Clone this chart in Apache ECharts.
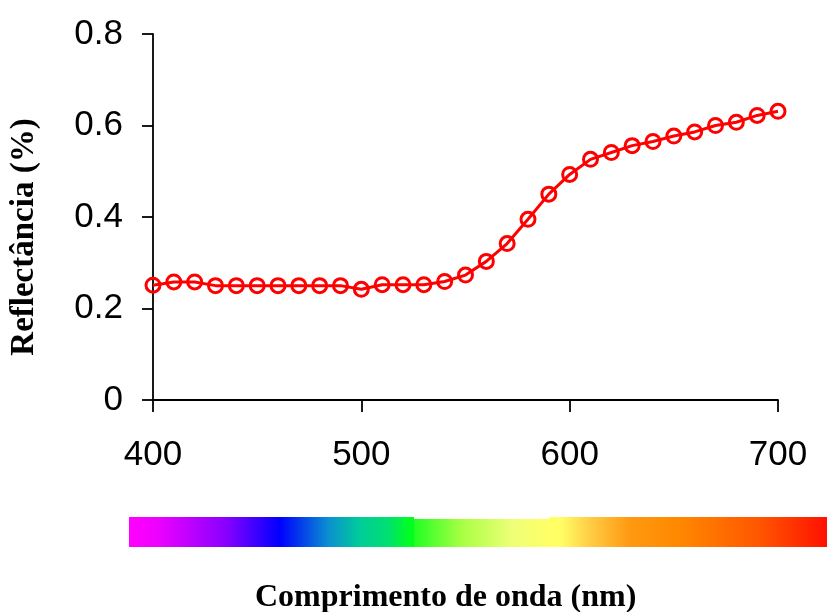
<!DOCTYPE html>
<html>
<head>
<meta charset="utf-8">
<script src="https://cdn.jsdelivr.net/npm/echarts@6/dist/echarts.min.js"></script>
<style>
html,body{margin:0;padding:0;background:#fff;}
#chart{width:827px;height:612px;}
</style>
</head>
<body>
<div id="chart"></div>
<script>
// Data
const wavelengths = [400,410,420,430,440,450,460,470,480,490,500,510,520,530,540,550,560,570,580,590,600,610,620,630,640,650,660,670,680,690,700];
const reflectance = [0.251,0.258,0.258,0.250,0.250,0.250,0.250,0.250,0.250,0.250,0.242,0.252,0.252,0.252,0.259,0.273,0.303,0.342,0.395,0.450,0.493,0.526,0.541,0.556,0.565,0.577,0.586,0.600,0.607,0.622,0.631];
const xTicks = [400,500,600,700];
const yTicks = [0,0.2,0.4,0.6,0.8];
const xTitle = 'Comprimento de onda (nm)';
const yTitle = 'Reflectância (%)';

const chart = echarts.init(document.getElementById('chart'), null, {renderer:'canvas'});
const seriesData = wavelengths.map((w,i)=>[w, reflectance[i]]);

const barTop = 517, barH = 30;
function grad(stops){
  return new echarts.graphic.LinearGradient(0,0,1,0, stops.map(s=>({offset:s[0], color:s[1]})));
}

chart.setOption({
  backgroundColor:'#ffffff',
  animation:false,
  grid:{left:150, right:49, top:34, bottom:212, containLabel:false},
  xAxis:{
    type:'value', min:xTicks[0], max:xTicks[xTicks.length-1], interval:100,
    axisLine:{show:true, onZero:false, lineStyle:{color:'#000', width:1.8}},
    axisTick:{show:true, inside:false, length:12, lineStyle:{color:'#000', width:1.8}},
    axisLabel:{fontFamily:'Liberation Sans, Arial, sans-serif', fontSize:35, color:'#000', margin:38},
    splitLine:{show:false}
  },
  yAxis:{
    type:'value', min:yTicks[0], max:yTicks[yTicks.length-1], interval:0.2,
    name:yTitle, nameLocation:'middle', nameRotate:90, nameGap:112,
    nameTextStyle:{fontFamily:'Liberation Serif, Times New Roman, serif', fontWeight:'bold', fontSize:33, color:'#000', padding:[0,40,0,0]},
    axisLine:{show:true, lineStyle:{color:'#000', width:1.8}},
    axisTick:{show:true, inside:false, length:11, lineStyle:{color:'#000', width:1.8}},
    axisLabel:{fontFamily:'Liberation Sans, Arial, sans-serif', fontSize:35, color:'#000', margin:30,
      formatter:v=> v===0 ? '0' : v.toFixed(1)},
    splitLine:{show:false}
  },
  title:{
    text:xTitle, left:250, top:577,
    textStyle:{fontFamily:'Liberation Serif, Times New Roman, serif', fontWeight:'bold', fontSize:32, color:'#000'}
  },
  series:[{
    type:'line',
    data:seriesData,
    symbol:'circle', symbolSize:14,
    lineStyle:{color:'#ff0000', width:3},
    itemStyle:{color:'transparent', borderColor:'#ff0000', borderWidth:3},
    smooth:false
  }],
  graphic:[
    {type:'rect', shape:{x:129, y:barTop, width:285, height:barH}, style:{fill:grad([
      [0,'#ff00ff'],[0.1,'#ee00ff'],[0.34,'#8800ff'],[0.53,'#0000ff'],[0.7,'#0a90d0'],[0.81,'#00cc99'],[0.91,'#00e070'],[0.985,'#00ff20'],[1,'#00ff20']
    ])}, silent:true},
    {type:'rect', shape:{x:414, y:barTop+2, width:135, height:barH-2}, style:{fill:grad([
      [0,'#22ff22'],[0.36,'#aaff44'],[0.73,'#eeff77'],[1,'#ffff66']
    ])}, silent:true},
    {type:'rect', shape:{x:549, y:barTop, width:278, height:barH}, style:{fill:grad([
      [0,'#ffff66'],[0.04,'#ffff66'],[0.15,'#ffcc44'],[0.29,'#ff9911'],[0.47,'#ff8800'],[0.76,'#ff5500'],[1,'#ff1100']
    ])}, silent:true}
  ]
});
</script>
</body>
</html>
